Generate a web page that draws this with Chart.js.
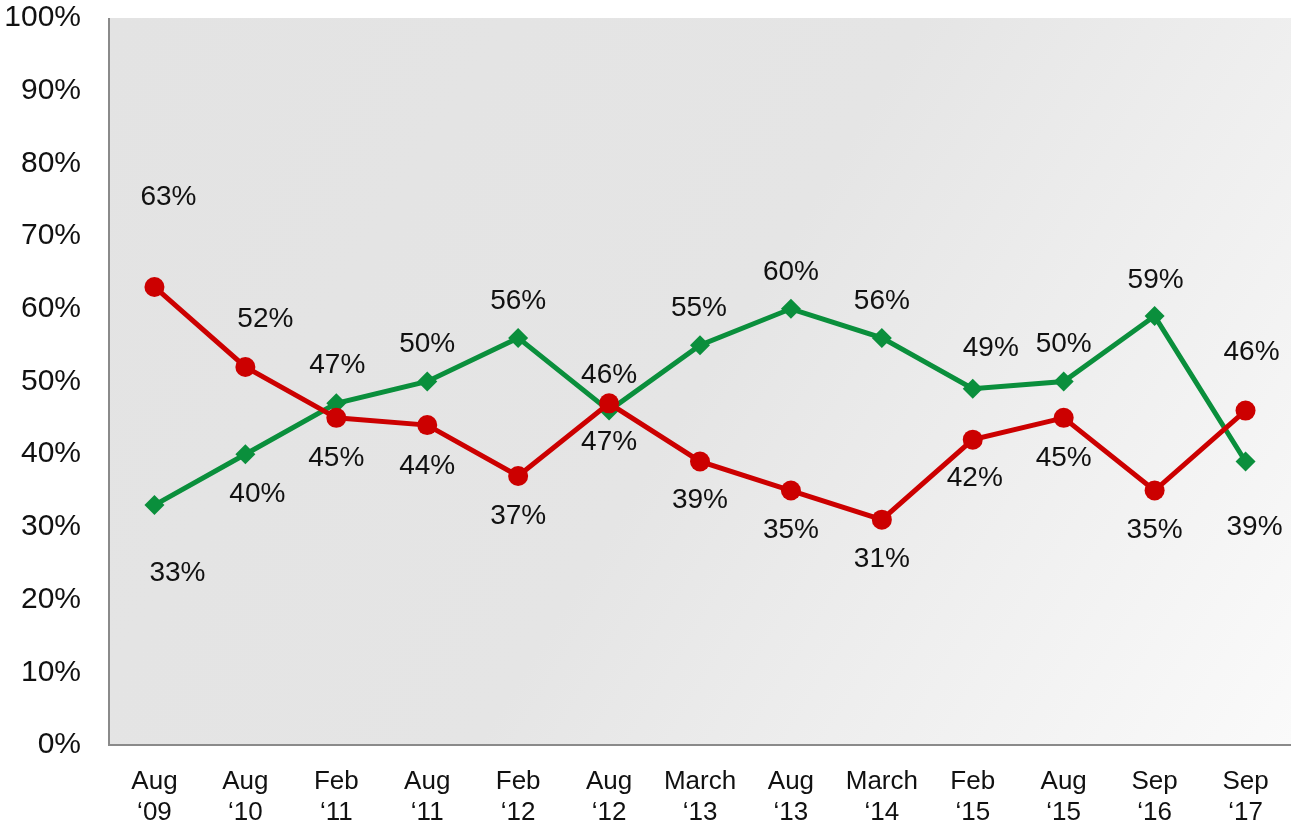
<!DOCTYPE html>
<html>
<head>
<meta charset="utf-8">
<script src="https://cdn.jsdelivr.net/npm/chart.js@4"></script>
<style>
  html, body { margin: 0; padding: 0; background: #fff; overflow: hidden; }
  #wrap { width: 1291px; height: 830px; }
  canvas { display: block; }
</style>
</head>
<body>
<div id="wrap"><canvas id="chart" width="1291" height="830"></canvas></div>
<script>
const PERIODS = [['Aug', '‘09'], ['Aug', '‘10'], ['Feb', '‘11'], ['Aug', '‘11'], ['Feb', '‘12'], ['Aug', '‘12'], ['March', '‘13'],
  ['Aug', '‘13'], ['March', '‘14'], ['Feb', '‘15'], ['Aug', '‘15'], ['Sep', '‘16'], ['Sep', '‘17']];
const RED_VALUES = [63, 52, 45, 44, 37, 47, 39, 35, 31, 42, 45, 35, 46];
const GREEN_VALUES = [33, 40, 47, 50, 56, 46, 55, 60, 56, 49, 50, 59, 39];
const Y_TICKS = [0, 10, 20, 30, 40, 50, 60, 70, 80, 90, 100];

// where each value label sits relative to its marker (dx, dy)
const RED_LABEL_OFFSETS = [[14, -90], [20, -48], [0, 40], [0, 41], [0, 40], [0, 39], [0, 39], [0, 40], [0, 40], [2, 39], [0, 40], [0, 40], [6, -58]];
const GREEN_LABEL_OFFSETS = [[23, 68], [12, 40], [1, -38], [0, -37], [0, -37], [0, -35], [-1, -37], [0, -37], [0, -37], [18, -40], [0, -37], [1, -36], [9, 66]];

const RED = '#cc0000';
const GREEN = '#0a8f3c';
const FONT = "'Liberation Sans', Arial, sans-serif";

// gray gradient panel behind the plot, plus the left/bottom axis lines
const plotBackground = {
  id: 'plotBackground',
  beforeDraw(chart) {
    const { ctx, chartArea: a } = chart;
    ctx.save();
    const g = ctx.createLinearGradient(a.left, a.top, a.right, a.bottom);
    g.addColorStop(0, '#e3e3e3');
    g.addColorStop(0.5, '#e5e5e5');
    g.addColorStop(1, '#fafafa');
    ctx.fillStyle = g;
    ctx.fillRect(a.left, a.top, a.right - a.left, a.bottom - a.top);
    ctx.strokeStyle = '#8a8a8a';
    ctx.lineWidth = 2;
    ctx.beginPath();
    ctx.moveTo(a.left, a.top);
    ctx.lineTo(a.left, a.bottom);
    ctx.lineTo(a.right, a.bottom);
    ctx.stroke();
    ctx.restore();
  },
};

const valueLabels = {
  id: 'valueLabels',
  afterDatasetsDraw(chart) {
    const { ctx } = chart;
    ctx.save();
    ctx.font = `28px ${FONT}`;
    ctx.fillStyle = '#111';
    ctx.textAlign = 'center';
    ctx.textBaseline = 'middle';
    chart.data.datasets.forEach((ds, di) => {
      const meta = chart.getDatasetMeta(di);
      meta.data.forEach((pt, i) => {
        const [dx, dy] = ds.labelOffsets[i];
        ctx.fillText(ds.data[i] + '%', pt.x + dx, pt.y + dy);
      });
    });
    ctx.restore();
  },
};

new Chart(document.getElementById('chart').getContext('2d'), {
  type: 'line',
  data: {
    labels: PERIODS,
    datasets: [
      {
        label: 'Red', data: RED_VALUES, labelOffsets: RED_LABEL_OFFSETS,
        borderColor: RED, backgroundColor: RED, borderWidth: 5,
        pointStyle: 'circle', pointRadius: 10, pointBorderWidth: 0, order: 0, tension: 0,
      },
      {
        label: 'Green', data: GREEN_VALUES, labelOffsets: GREEN_LABEL_OFFSETS,
        borderColor: GREEN, backgroundColor: GREEN, borderWidth: 5,
        pointStyle: 'rectRot', pointRadius: 10, pointBorderWidth: 0, order: 1, tension: 0,
      },
    ],
  },
  options: {
    responsive: false,
    animation: false,
    layout: { autoPadding: false, padding: { top: 18, right: 0, left: 0, bottom: 0 } },
    plugins: { legend: { display: false }, tooltip: { enabled: false } },
    scales: {
      x: {
        offset: true,
        grid: { display: false, drawTicks: false },
        border: { display: false },
        ticks: { color: '#111', font: { family: FONT, size: 26, lineHeight: 1.2 }, padding: 21, maxRotation: 0, autoSkip: false },
        afterFit(s) { s.height = 85; s.paddingLeft = 0; s.paddingRight = 0; },
      },
      y: {
        min: 0, max: 100,
        afterBuildTicks(s) { s.ticks = Y_TICKS.map((v) => ({ value: v })); },
        grid: { display: false, drawTicks: false },
        border: { display: false },
        ticks: { color: '#111', font: { family: FONT, size: 30 }, padding: 28, callback: (v) => v + '%' },
        afterFit(s) { s.width = 109; s.paddingTop = 0; s.paddingBottom = 0; },
      },
    },
  },
  plugins: [plotBackground, valueLabels],
});
</script>
</body>
</html>
